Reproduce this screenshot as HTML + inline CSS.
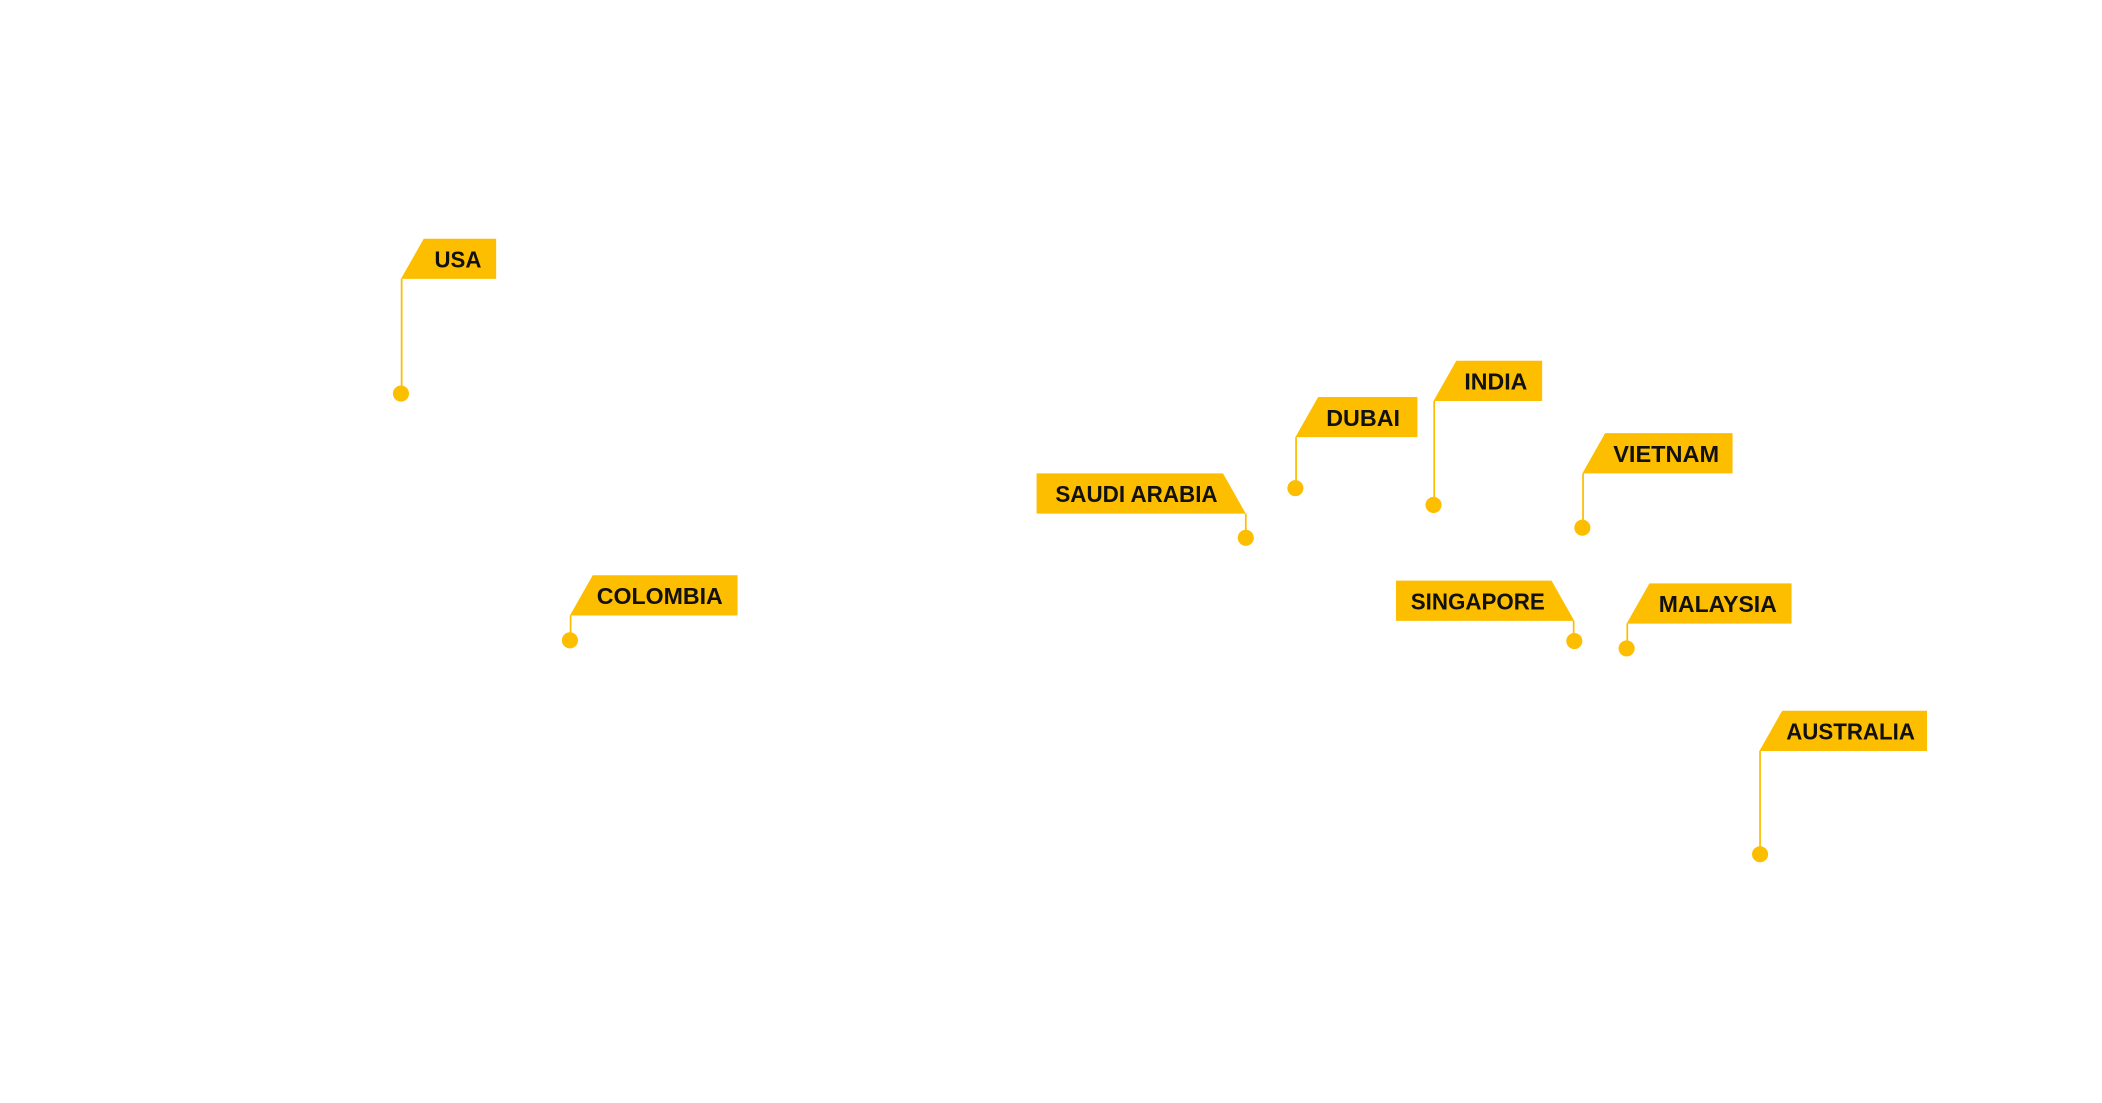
<!DOCTYPE html>
<html><head><meta charset="utf-8"><style>
html,body{margin:0;padding:0;background:#fff;width:2102px;height:1103px;overflow:hidden}
svg{display:block}
text{font-family:"Liberation Sans",sans-serif;font-weight:bold;font-size:17.5px;fill:#111}
</style></head><body>
<svg width="2102" height="1103" viewBox="0 0 1567.5 822.5" preserveAspectRatio="none">
<g fill="#FDBE00" stroke="none">
<!-- USA -->
<polygon points="299,208 316,178 370,178 370,208"/>
<!-- COLOMBIA -->
<polygon points="425,459 442,429 550,429 550,459"/>
<!-- SAUDI ARABIA -->
<polygon points="773,353 912,353 929,383 773,383"/>
<!-- DUBAI -->
<polygon points="966,326 983,296 1057,296 1057,326"/>
<!-- INDIA -->
<polygon points="1069,299 1086,269 1150,269 1150,299"/>
<!-- VIETNAM -->
<polygon points="1180,353 1197,323 1292,323 1292,353"/>
<!-- SINGAPORE -->
<polygon points="1041,433 1157,433 1174,463 1041,463"/>
<!-- MALAYSIA -->
<polygon points="1213,465 1230,435 1336,435 1336,465"/>
<!-- AUSTRALIA -->
<polygon points="1312,560 1329,530 1437,530 1437,560"/>
<circle cx="299" cy="293.5" r="6"/>
<circle cx="425" cy="477.5" r="6"/>
<circle cx="929" cy="401" r="6"/>
<circle cx="966" cy="364" r="6"/>
<circle cx="1069" cy="376.5" r="6"/>
<circle cx="1180" cy="393.5" r="6"/>
<circle cx="1174" cy="478" r="6"/>
<circle cx="1213" cy="483.5" r="6"/>
<circle cx="1312.5" cy="637" r="6"/>
</g>
<g stroke="#FDBE00" stroke-width="1.3" fill="none">
<line x1="299.5" y1="208" x2="299.5" y2="293"/>
<line x1="425.5" y1="459" x2="425.5" y2="477"/>
<line x1="929" y1="383" x2="929" y2="401"/>
<line x1="966.5" y1="326" x2="966.5" y2="364"/>
<line x1="1069.5" y1="299" x2="1069.5" y2="376"/>
<line x1="1180.5" y1="353" x2="1180.5" y2="393"/>
<line x1="1173.5" y1="463" x2="1173.5" y2="478"/>
<line x1="1213.5" y1="465" x2="1213.5" y2="483"/>
<line x1="1312.5" y1="560" x2="1312.5" y2="637"/>
</g>
<text x="324" y="199.5" textLength="35" lengthAdjust="spacingAndGlyphs">USA</text>
<text x="445" y="450.5" textLength="94" lengthAdjust="spacingAndGlyphs">COLOMBIA</text>
<text x="787" y="374.5" textLength="121" lengthAdjust="spacingAndGlyphs">SAUDI ARABIA</text>
<text x="989" y="317.5" textLength="55" lengthAdjust="spacingAndGlyphs">DUBAI</text>
<text x="1092" y="290.5" textLength="47" lengthAdjust="spacingAndGlyphs">INDIA</text>
<text x="1203" y="344.5" textLength="79" lengthAdjust="spacingAndGlyphs">VIETNAM</text>
<text x="1052" y="454.5" textLength="100" lengthAdjust="spacingAndGlyphs">SINGAPORE</text>
<text x="1237" y="456.5" textLength="88" lengthAdjust="spacingAndGlyphs">MALAYSIA</text>
<text x="1332" y="551.5" textLength="96" lengthAdjust="spacingAndGlyphs">AUSTRALIA</text>
</svg>
</body></html>
